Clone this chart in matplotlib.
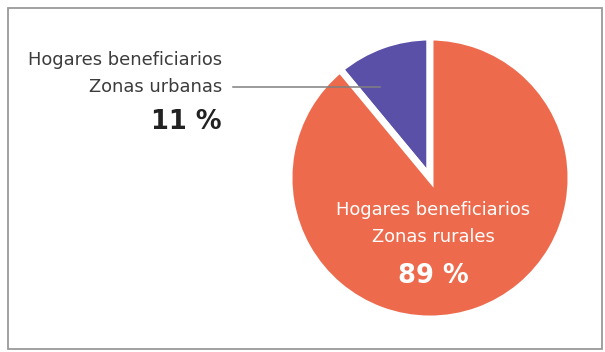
import matplotlib
matplotlib.use("Agg")
import matplotlib.pyplot as plt
from matplotlib.patches import Rectangle

# Data
categories = ["Zonas urbanas", "Zonas rurales"]
shares = [11, 89]
colors = ["#5a50a8", "#ee6a4c"]
label_head = "Hogares beneficiarios"

W, H = 605, 352
fig = plt.figure(figsize=(W / 100, H / 100), dpi=100)
ax = fig.add_axes([0, 0, 1, 1])

def iy(y):
    # image pixel row -> data y
    return H - y

# pie
cx, cy, r = 430, iy(178), 141
ax.pie(shares, colors=colors, startangle=90, counterclock=True,
       center=(cx, cy), radius=r, frame=True,
       wedgeprops=dict(edgecolor="white", linewidth=5))
ax.set_xlim(0, W)
ax.set_ylim(0, H)
ax.set_aspect("equal")
ax.axis("off")

# frame
ax.add_patch(Rectangle((8, iy(349)), 594, 341, fill=False,
                       edgecolor="#9a9a9a", linewidth=1.3))

# left label (urban)
ax.text(222, iy(65), label_head, ha="right", va="baseline",
        fontsize=12.9, color="#3c3c3c")
ax.text(222, iy(92), categories[0], ha="right", va="baseline",
        fontsize=12.9, color="#3c3c3c")
ax.text(222, iy(129), f"{shares[0]} %", ha="right", va="baseline",
        fontsize=18.5, fontweight="bold", color="#222222")
ax.plot([233, 380], [iy(87), iy(87)], color="#808080", linewidth=1.1)

# label inside rural slice
ax.text(433, iy(215), label_head, ha="center", va="baseline",
        fontsize=12.9, color="white")
ax.text(433, iy(242), categories[1], ha="center", va="baseline",
        fontsize=12.9, color="white")
ax.text(433, iy(283), f"{shares[1]} %", ha="center", va="baseline",
        fontsize=18.5, fontweight="bold", color="white")

fig.savefig("out.png", dpi=100)
